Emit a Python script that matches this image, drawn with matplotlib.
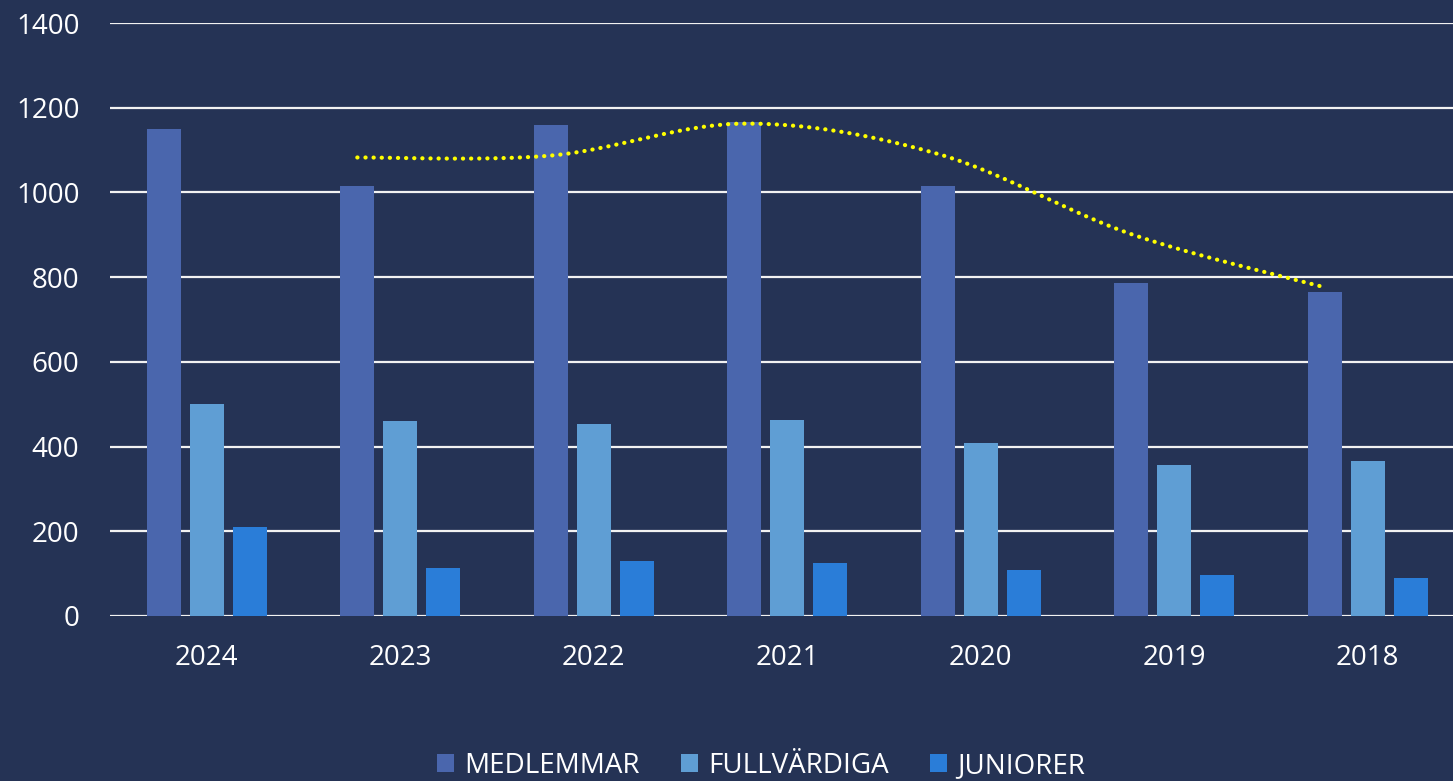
import numpy as np
import pandas as pd
import matplotlib
matplotlib.use("Agg")
import matplotlib.pyplot as plt

years = ["2024", "2023", "2022", "2021", "2020", "2019", "2018"]
medlemmar = [1150, 1015, 1159, 1166, 1016, 787, 765]
fullvardiga = [500, 460, 453, 463, 408, 356, 366]
juniorer = [210, 113, 130, 125, 109, 97, 90]
series_names = ["MEDLEMMAR", "FULLVÄRDIGA", "JUNIORER"]
yticks = [0, 200, 400, 600, 800, 1000, 1200, 1400]

BG = "#253355"
COLORS = ["#4A66AD", "#5F9ED4", "#2A7DD8"]

plt.rcParams["font.family"] = ["Open Sans", "DejaVu Sans"]

fig = plt.figure(figsize=(14.53, 7.81), dpi=100, facecolor=BG)
ax = fig.add_axes([110 / 1453, (781 - 616) / 781, 1354.5 / 1453, (616 - 23) / 781])
ax.set_facecolor(BG)

x = np.arange(len(years))
step = 0.222
width = 0.176
for i, (vals, name) in enumerate(zip([medlemmar, fullvardiga, juniorer], series_names)):
    ax.bar(x + (i - 1) * step, vals, width=width, color=COLORS[i], label=name, zorder=2)

# Two-period moving average trendline of MEDLEMMAR (smoothed)
ma = pd.Series(medlemmar, dtype=float).rolling(2).mean().to_numpy()
px = (x - step)[1:]
py = ma[1:]
P = np.column_stack([px, py])
n = len(P)
curve = []
for k in range(n - 1):
    p0 = P[k - 1] if k > 0 else P[k]
    p1 = P[k]
    p2 = P[k + 1]
    p3 = P[k + 2] if k + 2 < n else P[k + 1]
    c1 = p1 + (p2 - p0) / 6
    c2 = p2 - (p3 - p1) / 6
    t = np.linspace(0, 1, 60)[:, None]
    seg = (1 - t) ** 3 * p1 + 3 * (1 - t) ** 2 * t * c1 + 3 * (1 - t) * t ** 2 * c2 + t ** 3 * p2
    curve.append(seg if k == 0 else seg[1:])
curve = np.vstack(curve)
ax.plot(curve[:, 0], curve[:, 1], color="#FFFF00", linewidth=3.0,
        linestyle=(0, (0.05, 1.9)), dash_capstyle="round", zorder=4)

ax.set_xlim(-0.5, len(years) - 0.5)
ax.set_ylim(0, 1400)
ax.set_yticks(yticks)
ax.set_yticklabels([str(v) for v in yticks])
ax.set_xticks(x)
ax.set_xticklabels(years)
ax.yaxis.grid(True, color="#F2F2F2", linewidth=1.6, zorder=0)
ax.set_axisbelow(True)
for s in ax.spines.values():
    s.set_visible(False)
ax.tick_params(axis="both", length=0, colors="white", labelsize=20)
ax.tick_params(axis="y", pad=22)
ax.tick_params(axis="x", pad=20)

handles, labels = ax.get_legend_handles_labels()
fig.legend(handles, labels, loc="center", bbox_to_anchor=(761 / 1453, 1 - 766 / 781),
           ncol=3, frameon=False, fontsize=20, handlelength=0.62, handleheight=0.62,
           handletextpad=0.35, columnspacing=1.5, labelcolor="white")

fig.savefig("out.png", dpi=100, facecolor=BG)
